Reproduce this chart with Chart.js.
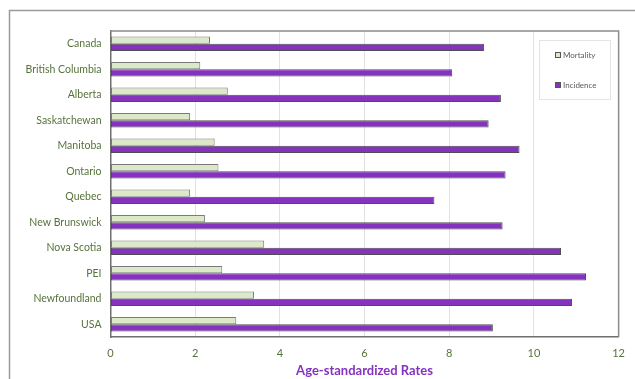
<!DOCTYPE html>
<html>
<head>
<meta charset="utf-8">
<script src="https://cdn.jsdelivr.net/npm/chart.js@4/dist/chart.umd.min.js"></script>
<style>
  html, body { margin: 0; padding: 0; background: #fff; }
  #wrap { width: 635px; height: 379px; position: relative; }
</style>
</head>
<body>
<div id="wrap"><canvas id="c" width="635" height="379"></canvas></div>
<script>
// Age-standardized rates by region
const regions = ['Canada', 'British Columbia', 'Alberta', 'Saskatchewan', 'Manitoba', 'Ontario',
                 'Quebec', 'New Brunswick', 'Nova Scotia', 'PEI', 'Newfoundland', 'USA'];
const mortality = [2.35, 2.12, 2.77, 1.88, 2.46, 2.55, 1.88, 2.23, 3.63, 2.64, 3.39, 2.97];
const incidence = [8.82, 8.07, 9.22, 8.93, 9.66, 9.33, 7.65, 9.26, 10.64, 11.23, 10.90, 9.03];
const xTicks = [0, 2, 4, 6, 8, 10, 12];

const FONT = 'Lato, "Open Sans", sans-serif';
const LABEL_GREEN = '#56733a';
const PURPLE = '#8532bf';

// Outer frame (top and left edges) plus box around the plot area
const framePlugin = {
  id: 'frame',
  beforeDraw(chart) {
    const ctx = chart.ctx;
    ctx.save();
    ctx.strokeStyle = '#9a9a9a';
    ctx.lineWidth = 1.5;
    ctx.beginPath();
    ctx.moveTo(9.5, 379);
    ctx.lineTo(9.5, 10.5);
    ctx.lineTo(635, 10.5);
    ctx.stroke();
    ctx.restore();
  },
  afterDatasetsDraw(chart) {
    const a = chart.chartArea;
    const ctx = chart.ctx;
    ctx.save();
    ctx.strokeStyle = '#8c8c8c';
    ctx.lineWidth = 1.5;
    ctx.beginPath();
    ctx.moveTo(a.left, a.top);
    ctx.lineTo(a.right, a.top);
    ctx.lineTo(a.right, a.bottom);
    ctx.stroke();
    ctx.restore();
  }
};

// Boxed legend inside the plot area
const boxLegend = {
  id: 'boxLegend',
  afterDraw(chart) {
    const ctx = chart.ctx;
    const x0 = 539, y0 = 40, w = 71, h = 59;
    ctx.save();
    ctx.fillStyle = '#ffffff';
    ctx.fillRect(x0, y0, w, h);
    ctx.strokeStyle = '#e4e4e4';
    ctx.lineWidth = 1;
    ctx.strokeRect(x0 + 0.5, y0 + 0.5, w, h);
    const rows = [55, 85];
    chart.data.datasets.forEach((ds, i) => {
      const y = rows[i];
      ctx.fillStyle = ds.backgroundColor;
      ctx.fillRect(555, y - 3, 6, 6);
      ctx.strokeStyle = '#555';
      ctx.lineWidth = 1;
      ctx.strokeRect(555.5, y - 2.5, 5, 5);
      ctx.fillStyle = '#5a5a5a';
      ctx.font = '8px ' + FONT;
      ctx.textBaseline = 'middle';
      ctx.textAlign = 'left';
      ctx.fillText(ds.label, 563, y);
    });
    ctx.restore();
  }
};

new Chart(document.getElementById('c'), {
  type: 'bar',
  data: {
    labels: regions,
    datasets: [
      {
        label: 'Mortality',
        data: mortality,
        backgroundColor: '#dbe9c8',
        borderColor: '#7a7a7a',
        borderWidth: 1,
        borderSkipped: false,
        categoryPercentage: 0.56,
        barPercentage: 1
      },
      {
        label: 'Incidence',
        data: incidence,
        backgroundColor: PURPLE,
        borderColor: '#4e4e4e',
        borderWidth: 1,
        borderSkipped: false,
        categoryPercentage: 0.56,
        barPercentage: 1
      }
    ]
  },
  options: {
    indexAxis: 'y',
    responsive: false,
    animation: false,
    layout: { padding: { left: 0, right: 12, top: 31, bottom: 0 } },
    plugins: {
      legend: { display: false },
      tooltip: { enabled: false }
    },
    scales: {
      x: {
        min: 0,
        max: 12,
        afterBuildTicks(scale) {
          scale.ticks = xTicks.map(v => ({ value: v }));
        },
        afterFit(scale) { scale.height = 42; },
        grid: { color: '#e2e2e2', lineWidth: 1, drawTicks: false },
        border: { color: '#6f6f6f', width: 1.5 },
        ticks: {
          color: LABEL_GREEN,
          font: { family: FONT, size: 11 },
          padding: 10
        },
        title: {
          display: true,
          text: 'Age-standardized Rates',
          color: PURPLE,
          font: { family: FONT, size: 13, weight: 'bold' },
          padding: { top: 2, bottom: 0 }
        }
      },
      y: {
        afterFit(scale) { scale.width = 110.5; },
        grid: { display: false, drawTicks: false },
        border: { color: '#6f6f6f', width: 1.5 },
        ticks: {
          color: LABEL_GREEN,
          font: { family: FONT, size: 10.5 },
          padding: 9
        }
      }
    }
  },
  plugins: [framePlugin, boxLegend]
});
</script>
</body>
</html>
